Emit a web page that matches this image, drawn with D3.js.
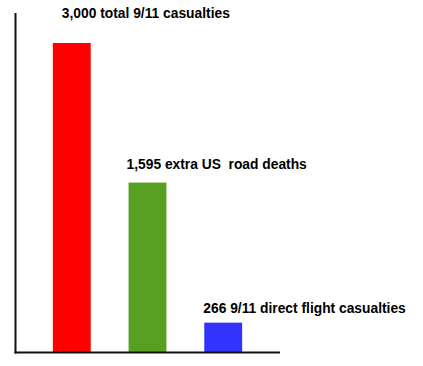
<!DOCTYPE html>
<html>
<head>
<meta charset="utf-8">
<script src="https://cdn.jsdelivr.net/npm/d3@7"></script>
<style>
  html, body { margin: 0; padding: 0; background: #fff; }
  text { font-family: "Liberation Sans", Arial, sans-serif; font-weight: bold; }
</style>
</head>
<body>
<svg id="chart" width="423" height="366"></svg>
<script>
// Data
const categories = ["total", "road", "flight"];
const values = [3000, 1645, 285];
const labels = ["3,000 total 9/11 casualties", "1,595 extra US  road deaths", "266 9/11 direct flight casualties"];
const colors = ["#ff0000", "#58a021", "#3333ff"];

// Label layout offsets (relative to bar left / bar top)
const labelDx = [9, -2, -1];
const labelDy = [-25, -14, -10];

const svg = d3.select("#chart");
const x0 = 15, x1 = 280, yBottom = 352, yTop = 43;

const x = d3.scaleBand().domain(categories).range([x0, x1]).paddingInner(0.5).paddingOuter(0.5);
const y = d3.scaleLinear().domain([0, 3000]).range([yBottom, yTop]);

svg.selectAll("rect.bar").data(categories).enter().append("rect")
  .attr("class", "bar")
  .attr("x", d => x(d))
  .attr("width", x.bandwidth())
  .attr("y", (d, i) => y(values[i]))
  .attr("height", (d, i) => yBottom - y(values[i]))
  .attr("fill", (d, i) => colors[i]);

svg.selectAll("text.lbl").data(categories).enter().append("text")
  .attr("class", "lbl")
  .attr("x", (d, i) => x(d) + labelDx[i])
  .attr("y", (d, i) => y(values[i]) + labelDy[i])
  .attr("font-size", 13.8)
  .attr("fill", "#000")
  .style("white-space", "pre")
  .attr("xml:space", "preserve")
  .text((d, i) => labels[i]);

// Axes lines
svg.append("line").attr("x1", x0 + 0.5).attr("x2", x0 + 0.5).attr("y1", 13).attr("y2", yBottom + 1.5)
  .attr("stroke", "#111").attr("stroke-width", 2);
svg.append("line").attr("x1", x0 - 0.5).attr("x2", x1).attr("y1", yBottom + 0.5).attr("y2", yBottom + 0.5)
  .attr("stroke", "#111").attr("stroke-width", 2);
</script>
</body>
</html>
